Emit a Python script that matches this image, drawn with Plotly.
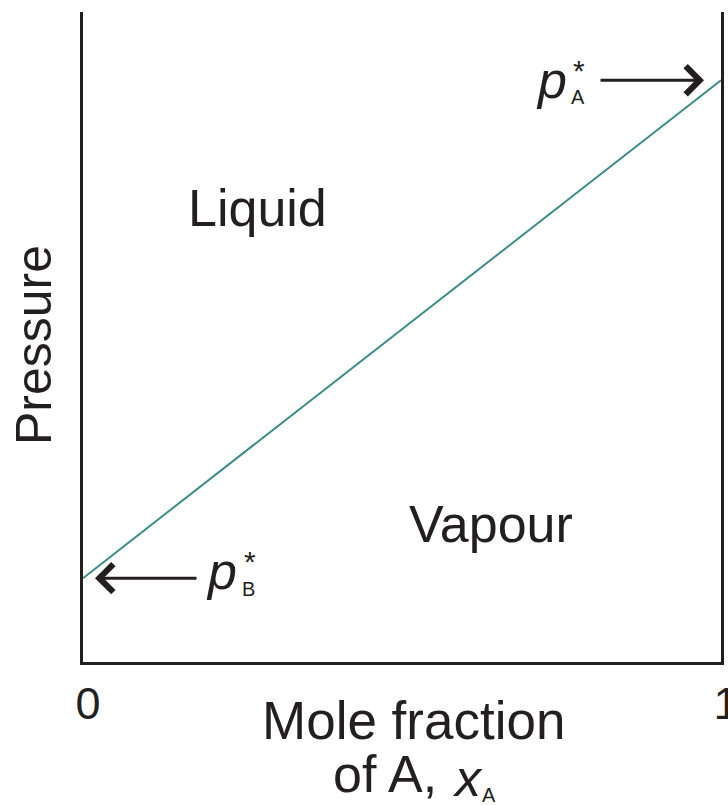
import plotly.graph_objects as go

# liquid composition vs total pressure (Raoult's law, ideal solution)
mole_fraction_A = [0.0, 1.0]
pressure = [0.129, 0.895]
tick_vals = [0, 1]
tick_text = ["0", "1"]

FONT = "Liberation Sans, Arial, sans-serif"
INK = "#231f20"
TEAL = "#3d8c87"

# plot box in pixels: x 83..721, y 12..662
def px(x):
    return (x - 83) / 638.0

def py(y):
    return (662 - y) / 650.0


fig = go.Figure()
fig.add_trace(go.Scatter(
    x=mole_fraction_A, y=pressure,
    mode="lines",
    line=dict(color=TEAL, width=2),
    hoverinfo="skip",
    showlegend=False))

ann = []

def label(x, y, text, size, italic=False, angle=0):
    if italic:
        text = "<i>%s</i>" % text
    ann.append(dict(x=px(x), y=py(y), xref="paper", yref="paper",
                    text=text, showarrow=False, textangle=angle,
                    xanchor="center", yanchor="middle",
                    font=dict(family=FONT, size=size, color=INK)))

def arrow(x_tip, x_tail, yv):
    ann.append(dict(x=x_tip, y=yv, ax=x_tail, ay=yv,
                    xref="x", yref="y", axref="x", ayref="y",
                    text="", showarrow=True, arrowhead=4,
                    arrowsize=1.8, arrowwidth=3, arrowcolor=INK,
                    standoff=0, startstandoff=0))

arrow(px(704), px(599), pressure[1])
arrow(px(95), px(198), pressure[0])

label(257, 208, "Liquid", 52)
label(491, 524, "Vapour", 52)

# p*_A
label(551, 80, "p", 52, italic=True)
label(579, 70, "*", 30)
label(578, 97, "A", 20)
# p*_B
label(221, 571, "p", 52, italic=True)
label(250, 561, "*", 30)
label(248, 589, "B", 20)

# axis titles
label(34, 345, "Pressure", 50, angle=-90)
label(413, 720, "Mole fraction", 53)
label(385, 774, "of A,", 52)
label(467, 778, "x", 52, italic=True)
label(489, 795, "A", 20)

fig.update_layout(
    width=728, height=805,
    margin=dict(l=83, r=7, t=12, b=143, autoexpand=False),
    paper_bgcolor="white", plot_bgcolor="white",
    annotations=ann,
    xaxis=dict(range=[0, 1], showgrid=False, zeroline=False,
               showline=True, linecolor=INK, linewidth=3, mirror=False,
               tickvals=tick_vals, ticktext=tick_text, ticks="",
               ticklabelstandoff=0, ticklabelshift=5, automargin=False,
               ticklabeloverflow="allow",
               tickfont=dict(family=FONT, size=45, color=INK)),
    yaxis=dict(range=[0, 1], showgrid=False, zeroline=False,
               showline=True, linecolor=INK, linewidth=3, mirror=True,
               showticklabels=False, ticks="", automargin=False),
)

# drop the default 8px body margin so the figure fills the window exactly
fig.write_html("out.html", config={"displayModeBar": False},
               post_script="document.body.style.margin='0';document.body.style.overflow='hidden';")
